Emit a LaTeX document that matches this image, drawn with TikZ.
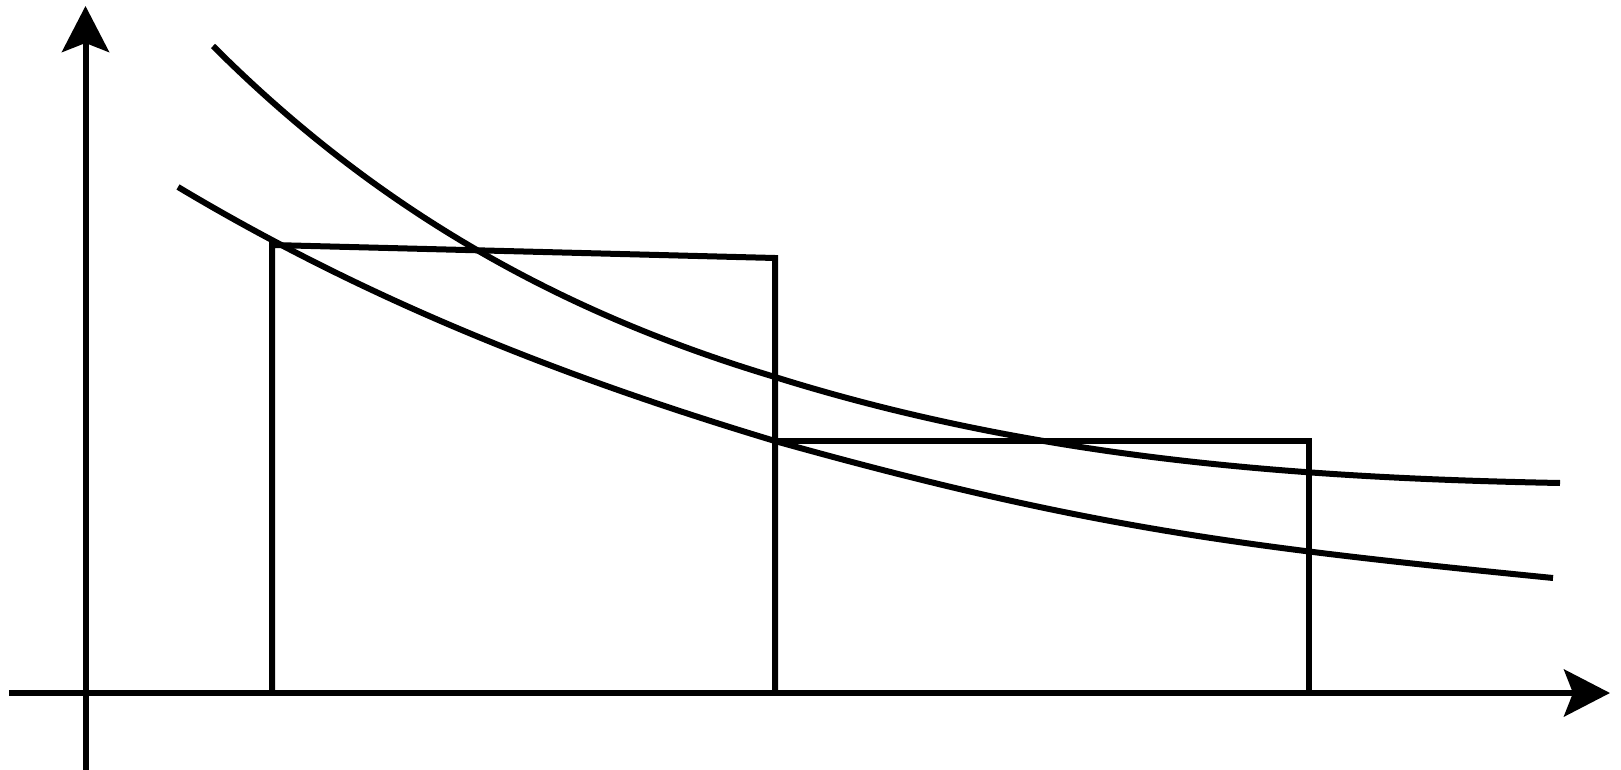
\documentclass[tikz,border=0pt]{standalone}
\usetikzlibrary{arrows.meta}
\begin{document}
\begin{tikzpicture}[x=1pt,y=-1pt,
  ln/.style={line width=6pt,black},
  axis/.style={ln,-{Stealth[length=46pt,width=47pt,inset=9pt]}},
  curve/.style={ln}]
\useasboundingbox (0,0) rectangle (1621,770);
\fill[white] (0,0) rectangle (1621,770);
% axes
\coordinate (xs) at (9,693);
\coordinate (xe) at (1610,693);
\coordinate (ys) at (85.5,770);
\coordinate (ye) at (85.5,6);
\draw[axis] (xs) -- (xe);
\draw[axis] (ys) -- (ye);
% rectangles
\coordinate (a0) at (272,693);
\coordinate (a1) at (272,245);
\coordinate (b1) at (775,258);
\coordinate (b0) at (775,693);
\coordinate (c1) at (775,441);
\coordinate (d1) at (1309,441);
\coordinate (d0) at (1309,693);
\draw[ln,line join=miter] (a0) -- (a1) -- (b1) -- (b0);
\draw[ln,line join=miter] (c1) -- (d1) -- (d0);
% upper curve
\coordinate (u0) at (213,46);
\coordinate (u1) at (775,377);
\coordinate (u2) at (1560,483);
\draw[curve] (u0) .. controls (393,226) and (585,320) .. (u1)
             .. controls (1037,459) and (1298,478) .. (u2);
% lower curve
\coordinate (l0) at (178,187);
\coordinate (l1) at (775,441);
\coordinate (l2) at (1553,578);
\draw[curve] (l0) .. controls (377,306) and (576,381) .. (l1)
             .. controls (1086,528) and (1242,547) .. (l2);
\end{tikzpicture}
\end{document}
